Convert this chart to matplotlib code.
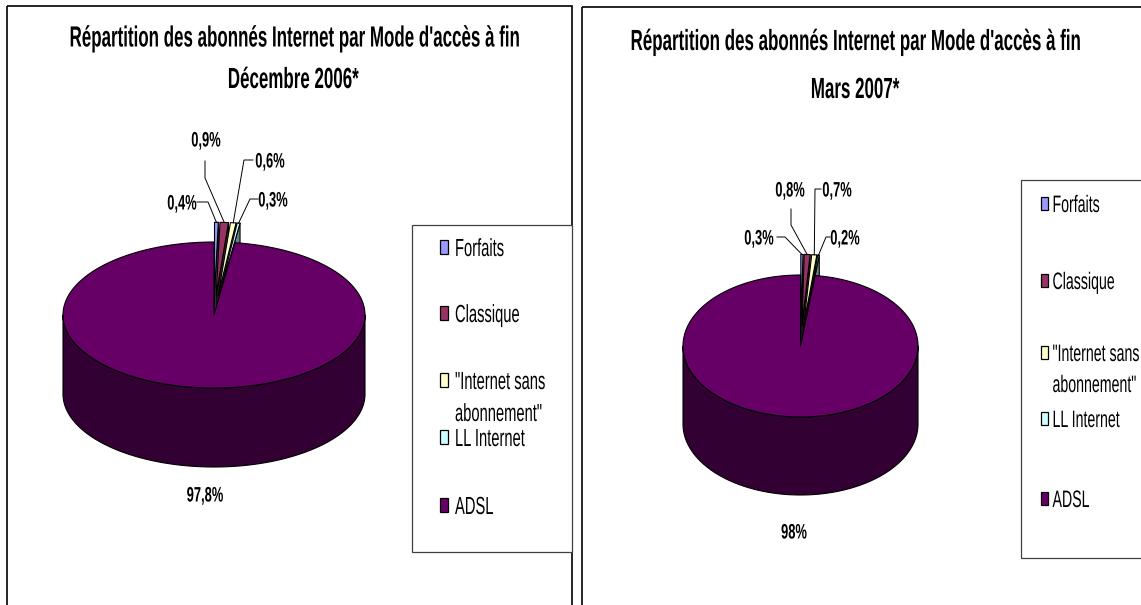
"""
Répartition des abonnés Internet par mode d'accès (Déc. 2006 / Mars 2007).
Two Excel-style 3D pies side by side, each with its own framed legend.
"""

import matplotlib

matplotlib.use("Agg")

import matplotlib.pyplot as plt
import numpy as np
from matplotlib import patheffects
from matplotlib.patches import Polygon, Rectangle
from matplotlib.transforms import Affine2D

# ---------------------------------------------------------------- data
categories = ["Forfaits", "Classique", '"Internet sans abonnement"', "LL Internet", "ADSL"]
legend_lines = [["Forfaits"], ["Classique"], ['"Internet sans', 'abonnement"'], ["LL Internet"], ["ADSL"]]
share_dec_2006 = [0.4, 0.9, 0.6, 0.3, 97.8]
share_mar_2007 = [0.3, 0.8, 0.7, 0.2, 98.0]
title_dec_2006 = ["Répartition des abonnés Internet par Mode d'accès à fin", "Décembre 2006*"]
title_mar_2007 = ["Répartition des abonnés Internet par Mode d'accès à fin", "Mars 2007*"]

colors = ["#9999FF", "#993366", "#FFFFCC", "#CCFFFF", "#660066"]

FONT = "Liberation Sans"

# ---------------------------------------------------------------- layout (pixels, y down)
panels = [
    dict(
        values=share_dec_2006,
        title=title_dec_2006,
        frame=(7, 6, 565, 800),
        title_pos=[(294, 46.5), (293, 88)],
        pie=dict(cx=214, cy=315, rx=151, ry=73, depth=79, explode=0.27),
        label_pos=[(182, 209.5), (206, 146.5), (270, 167.5), (273, 206.5), (205, 501.5)],
        leaders=[[(197, 202), (208, 202)], [(205, 161), (205, 178)],
                 [(253, 160), (244, 160)], [(258, 199), (250, 199)]],
        legend_box=(412, 225, 160, 327),
        marker=(440, 8, 14),
        text_x=455,
        marker_y=[247, 313, 380, 437, 505],
        baselines=[[256], [322], [389, 421], [446], [514]],
        legend_size=10.6,
    ),
    dict(
        values=share_mar_2007,
        title=title_mar_2007,
        frame=(582, 7, 800, 800),
        title_pos=[(855, 50), (855, 98)],
        pie=dict(cx=800.5, cy=346, rx=117.5, ry=71, depth=78, explode=0.29),
        label_pos=[(759, 244.5), (790, 196.5), (837, 196.5), (845, 244.5), (794, 538.5)],
        leaders=[[(777, 237), (785, 237)], [(791, 209), (791, 225)],
                 [(821, 189), (815, 189)], [(830, 237), (826, 237)]],
        legend_box=(1021, 180, 200, 378),
        marker=(1041, 7, 13),
        text_x=1052.5,
        marker_y=[203, 280, 352, 418, 498],
        baselines=[[212], [289], [361, 392], [427], [507]],
        legend_size=10.2,
    ),
]


class Stretch(patheffects.AbstractPathEffect):
    """Draw glyphs taller than normal (the source text is tall and narrow)."""

    def __init__(self, sy):
        super().__init__()
        self.sy = sy

    def draw_path(self, renderer, gc, tpath, affine, rgbFace=None):
        renderer.draw_path(gc, tpath, Affine2D().scale(1.0, self.sy) + affine, rgbFace)


def put_text(ax, x, y, s, size, sy, weight="normal", ha="left"):
    return ax.text(x, y, s, fontsize=size, fontweight=weight, family=FONT,
                   ha=ha, va="baseline", color="black",
                   path_effects=[Stretch(sy)])


def shade(color, k=0.5):
    rgb = np.array(matplotlib.colors.to_rgb(color))
    return tuple(rgb * k)


def pie_point(geo, theta, dx=0.0, dy=0.0):
    return (geo["cx"] + dx + geo["rx"] * np.sin(theta),
            geo["cy"] + dy - geo["ry"] * np.cos(theta))


def arc(geo, t1, t2, dx=0.0, dy=0.0):
    n = max(int(abs(t2 - t1) / np.deg2rad(1.0)) + 2, 3)
    t = np.linspace(t1, t2, n)
    return np.column_stack([geo["cx"] + dx + geo["rx"] * np.sin(t),
                            geo["cy"] + dy - geo["ry"] * np.cos(t)])


def draw_pie3d(ax, values, geo):
    """3D pie, clockwise from 12 o'clock; small slices pulled out. Returns leader targets."""
    fracs = np.asarray(values, float) / np.sum(values)
    bounds = np.concatenate([[0.0], np.cumsum(fracs)]) * 2 * np.pi
    big = int(np.argmax(fracs))
    cx, cy, depth = geo["cx"], geo["cy"], geo["depth"]
    edge = dict(edgecolor="black", linewidth=0.8, joinstyle="round")

    # cut faces of the big slice
    for t in (bounds[big], bounds[big + 1]):
        px, py = pie_point(geo, t)
        ax.add_patch(Polygon([(cx, cy), (px, py), (px, py + depth), (cx, cy + depth)],
                             facecolor=shade(colors[big]), **edge))

    targets = {}
    for i in range(len(fracs)):
        if i == big:
            continue
        t1, t2 = bounds[i], bounds[i + 1]
        tm = 0.5 * (t1 + t2)
        dx = geo["rx"] * geo["explode"] * np.sin(tm)
        dy = -geo["ry"] * geo["explode"] * np.cos(tm)
        px, py = pie_point(geo, t2, dx, dy)
        face = [(cx + dx, cy + dy), (px, py), (px, py + depth), (cx + dx, cy + dy + depth)]
        ax.add_patch(Polygon(face, facecolor=shade(colors[i]), **edge))
        top = np.vstack([[cx + dx, cy + dy], arc(geo, t1, t2, dx, dy)])
        ax.add_patch(Polygon(top, facecolor=colors[i], **edge))
        targets[i] = pie_point(geo, tm, dx, dy)

    # outer wall of the big slice (front half only)
    t1, t2 = bounds[big], bounds[big + 1]
    lo, hi = max(t1, np.pi / 2), min(t2, 3 * np.pi / 2)
    wall = np.vstack([arc(geo, lo, hi), arc(geo, hi, lo, 0.0, depth)])
    ax.add_patch(Polygon(wall, facecolor=shade(colors[big]), **edge))
    top = np.vstack([[cx, cy], arc(geo, t1, t2)])
    ax.add_patch(Polygon(top, facecolor=colors[big], **edge))
    return targets


def pct_label(v):
    return f"{v:g}".replace(".", ",") + "%"


fig = plt.figure(figsize=(11.41, 6.05), dpi=100)
ax = fig.add_axes([0, 0, 1, 1])
ax.set_xlim(0, 1141)
ax.set_ylim(605, 0)
ax.axis("off")

for p in panels:
    fx, fy, fw, fh = p["frame"]
    ax.add_patch(Rectangle((fx, fy), fw, fh, fill=False, edgecolor="black", linewidth=1.2))

    for line, (tx, ty) in zip(p["title"], p["title_pos"]):
        put_text(ax, tx, ty, line, 12.2, 1.72, weight="bold", ha="center")

    targets = draw_pie3d(ax, p["values"], p["pie"])

    for i, (v, (lx, ly)) in enumerate(zip(p["values"], p["label_pos"])):
        put_text(ax, lx, ly, pct_label(v), 9.3, 1.62, weight="bold", ha="center")
        if i in targets:
            (sx, sy), (ex, ey) = p["leaders"][i]
            tx, ty = targets[i]
            ax.plot([sx, ex, tx], [sy, ey, ty], color="black", linewidth=0.7,
                    solid_joinstyle="miter")

    bx, by, bw, bh = p["legend_box"]
    ax.add_patch(Rectangle((bx, by), bw, bh, facecolor="white", edgecolor="#404040",
                           linewidth=0.9))
    mx, mw, mh = p["marker"]
    for color, lines, my, bases in zip(colors, legend_lines, p["marker_y"], p["baselines"]):
        ax.add_patch(Rectangle((mx, my - mh / 2), mw, mh, facecolor=color,
                               edgecolor="black", linewidth=0.9))
        for line, base in zip(lines, bases):
            put_text(ax, p["text_x"], base, line, p["legend_size"], 1.68)

fig.savefig("out.png", dpi=100, facecolor="white")
